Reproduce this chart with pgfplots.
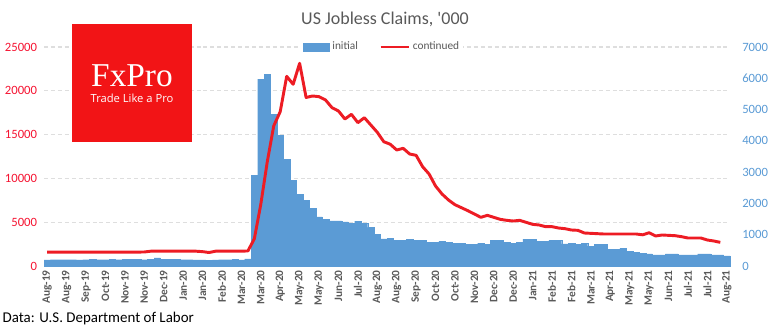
\documentclass[border=0pt]{standalone}
\usepackage{pgfplots}
\pgfplotsset{compat=1.18}
\usepackage{pgfplotstable}
\usepackage{fontspec}
\setmainfont{Carlito}
\newfontfamily\logoserif{Liberation Serif}
\newfontfamily\logosans{Open Sans}
\definecolor{barblue}{RGB}{91,155,213}
\definecolor{linered}{RGB}{237,28,36}
\definecolor{logored}{RGB}{242,20,22}
\definecolor{tickred}{RGB}{245,20,50}
\definecolor{txtgray}{RGB}{89,89,89}
\definecolor{gridgray}{RGB}{222,222,222}
\definecolor{axgray}{RGB}{210,210,210}

\pgfplotstableread{
k v
0 200
1 205
2 202
3 205
4 203
5 200
6 205
7 208
8 202
9 204
10 206
11 205
12 208
13 210
14 212
15 205
16 210
17 260
18 215
19 212
20 210
21 205
22 202
23 200
24 198
25 175
26 200
27 202
28 205
29 208
30 195
31 230
32 2908
33 5975
34 6136
35 4858
36 4187
37 3420
38 2749
39 2301
40 2109
41 1843
42 1570
43 1495
44 1445
45 1445
46 1410
47 1374
48 1438
49 1364
50 1236
51 1023
52 868
53 890
54 831
55 831
56 863
57 831
58 831
59 767
60 767
61 799
62 767
63 735
64 735
65 703
66 703
67 735
68 703
69 831
70 831
71 767
72 735
73 767
74 863
75 863
76 799
77 799
78 831
79 831
80 708
81 735
82 703
83 735
84 639
85 703
86 703
87 543
88 543
89 575
90 479
91 447
92 415
93 384
94 352
95 352
96 384
97 384
98 352
99 352
100 352
101 384
102 384
103 352
104 352
105 320
}\initialtab

\pgfplotstableread{
k v
0 1580
1 1580
2 1580
3 1580
4 1580
5 1580
6 1580
7 1580
8 1580
9 1580
10 1585
11 1585
12 1585
13 1590
14 1590
15 1600
16 1690
17 1700
18 1700
19 1700
20 1695
21 1695
22 1700
23 1690
24 1640
25 1540
26 1690
27 1695
28 1700
29 1700
30 1705
31 1712
32 3100
33 7050
34 11900
35 16000
36 17616
37 21650
38 20742
39 23140
40 19240
41 19407
42 19331
43 18951
44 18075
45 17695
46 16782
47 17318
48 16361
49 16932
50 16097
51 15262
52 14190
53 13900
54 13243
55 13434
56 12786
57 12634
58 11338
59 10503
60 9133
61 8220
62 7535
63 6998
64 6656
65 6313
66 5936
67 5556
68 5784
69 5556
70 5327
71 5213
72 5137
73 5213
74 4985
75 4757
76 4681
77 4491
78 4491
79 4338
80 4260
81 4110
82 4072
83 3767
84 3729
85 3691
86 3653
87 3653
88 3653
89 3653
90 3653
91 3653
92 3560
93 3800
94 3425
95 3539
96 3500
97 3463
98 3349
99 3196
100 3196
101 3196
102 2968
103 2854
104 2702
}\continuedtab

\begin{document}
\begin{tikzpicture}
\path[use as bounding box] (0,0) rectangle (577.5pt,247.5pt);
% grid (left-axis scale), drawn first so that bars cover it
\begin{axis}[
  at={(33pt,48pt)}, anchor=south west,
  width=514.5pt, height=164.25pt, scale only axis,
  xmin=-0.5, xmax=105.5, ymin=0, ymax=25000,
  axis line style={draw=none},
  major tick length=0pt,
  scaled y ticks=false,
  ytick={5000,10000,15000,20000,25000},
  yticklabel=\empty,
  xtick=\empty,
  ymajorgrids=true,
  grid style={dash pattern=on 3pt off 2.2pt, color=gridgray, line width=0.8pt},
]
\addplot[draw=none, forget plot] coordinates {(0,0) (1,0)};
\end{axis}
% bars: initial claims, right axis
\begin{axis}[
  at={(33pt,48pt)}, anchor=south west,
  width=514.5pt, height=164.25pt, scale only axis,
  xmin=-0.5, xmax=105.5, ymin=0, ymax=7000,
  axis x line*=bottom, axis y line*=right,
  x axis line style={draw=axgray, line width=1.2pt},
  y axis line style={draw=none},
  major tick length=0pt,
  ytick={0,1000,...,7000},
  scaled y ticks=false,
  yticklabel style={font=\fontsize{9.5}{10}\selectfont, text=barblue, anchor=west, inner sep=0pt, xshift=9pt},
  /pgf/number format/assume math mode=true,
  /pgf/number format/1000 sep={},
  xtick={0,3,...,105},
  xticklabels={Aug-19,Aug-19,Sep-19,Oct-19,Nov-19,Nov-19,Dec-19,Jan-20,Jan-20,Feb-20,Mar-20,Mar-20,Apr-20,May-20,May-20,Jun-20,Jul-20,Aug-20,Aug-20,Sep-20,Oct-20,Oct-20,Nov-20,Dec-20,Dec-20,Jan-21,Feb-21,Feb-21,Mar-21,Apr-21,May-21,May-21,Jun-21,Jul-21,Jul-21,Aug-21},
  xticklabel style={yshift=-3pt, rotate=90, anchor=east, inner sep=0pt, font=\bfseries\fontsize{8.5}{9}\selectfont, text=txtgray},
  clip=false,
]
\addplot[ybar, bar width=1, fill=barblue, draw=barblue, line width=0.1pt] table[x=k, y=v] {\initialtab};
\end{axis}
% line: continued claims, left axis
\begin{axis}[
  at={(33pt,48pt)}, anchor=south west,
  width=514.5pt, height=164.25pt, scale only axis,
  xmin=-0.5, xmax=105.5, ymin=0, ymax=25000,
  axis x line=none, axis y line*=left,
  y axis line style={draw=none},
  major tick length=0pt,
  ytick={0,5000,...,25000},
  scaled y ticks=false,
  yticklabel style={font=\fontsize{9.5}{10}\selectfont, text=tickred, anchor=east, inner sep=0pt, xshift=-5pt},
  /pgf/number format/assume math mode=true,
  /pgf/number format/1000 sep={},
  legend columns=2,
  legend style={at={(0.493,1)}, anchor=center, draw=none, fill=white, inner sep=1pt,
    font=\fontsize{8.5}{9}\selectfont, text=txtgray,
    /tikz/every even column/.append style={column sep=14pt}},
  clip=false,
]
\addlegendimage{legend image code/.code={\fill[barblue] (0pt,-3pt) rectangle (20pt,3pt);}}
\addlegendentry{initial}
\addplot[linered, line width=2.2pt, line join=round, mark=none,
  legend image code/.code={\draw[linered, line width=2.2pt] (0pt,0pt) -- (21pt,0pt);}] table[x=k, y=v] {\continuedtab};
\addlegendentry{continued}
\end{axis}
% logo
\fill[logored] (54pt,141pt) rectangle (144pt,229.5pt);
\node[text=white, font=\logoserif\fontsize{25}{26}\selectfont, inner sep=0pt] at (99pt,190.5pt) {FxPro};
\node[text=white, font=\logosans\fontsize{8.4}{9}\selectfont, inner sep=0pt] at (99pt,173.5pt) {Trade Like a Pro};
% title
\node[text=txtgray, font=\fontsize{13.5}{15}\selectfont, inner sep=0pt] at (288.75pt,233.25pt) {US Jobless Claims, \textquotesingle 000};
% source
\node[anchor=west, text=black, font=\fontsize{11.2}{12}\selectfont, inner sep=0pt] at (1.8pt,8.8pt) {Data: U.S. Department of Labor};
\end{tikzpicture}
\end{document}
